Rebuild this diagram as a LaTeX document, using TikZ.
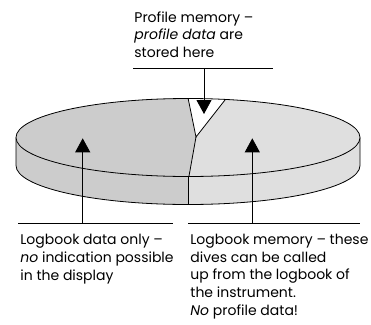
\documentclass[tikz,border=0pt]{standalone}
\usepackage{fontspec}
\setmainfont{Poppins}
\usetikzlibrary{arrows.meta,positioning}

\begin{document}
\begin{tikzpicture}[x=1pt,y=-1pt,line width=0.8pt,
  pointer/.style={-{Triangle[length=14pt,width=15pt]}},
  caption/.style={anchor=base west,align=left,inner sep=0pt,
    font=\fontsize{14}{17.6}\selectfont},
  disc/.style={x radius=172,y radius=39}]
  \useasboundingbox (0,0) rectangle (371,324);
  % side of the disc
  \begin{scope}
    \clip (16,137.5) -- (16,165.5) arc[start angle=180,end angle=0,disc] -- (360,137.5) -- cycle;
    \fill[gray!40] (0,120) rectangle (188.3,220);
    \fill[gray!25] (188.3,120) rectangle (371,220);
  \end{scope}
  \draw (16,137.5) -- (16,165.5) arc[start angle=180,end angle=0,disc] -- (360,137.5);
  \draw (188.3,176) -- (188.3,204.5);
  % top of the disc
  \fill[gray!25] (188,137.5) ellipse[disc];
  \begin{scope}
    \clip (188,137.5) ellipse[disc];
    \fill[gray!40] (186.4,90) -- (196,137) -- (188.3,177) -- (188.3,190) -- (0,190) -- (0,90) -- cycle;
    \fill[white] (186.4,90) -- (196,137) -- (232.8,90) -- cycle;
    \draw (186.4,90) -- (196,137) -- (232.8,90);
    \draw (196,137) -- (188.3,180);
  \end{scope}
  \draw (188,137.5) ellipse[disc];

  % texts (anchored at the baseline of the last line)
  \node[caption] (profile) at (134,57.3) {Profile memory --\\\textit{profile data} are\\stored here};
  \node[caption] (logonly) at (20,280) {Logbook data only --\\\textit{no} indication possible\\in the display};
  \node[caption] (logmem) at (190,315) {Logbook memory -- these\\dives can be called\\up from the logbook of\\the instrument.\\\textit{No} profile data!};

  % rules and pointers
  \coordinate (pfrom) at (204,68.3);
  \coordinate (pto) at (204,114);
  \coordinate (lfrom) at (82.7,223.3);
  \coordinate (lto) at (82.7,138.3);
  \coordinate (rfrom) at (252.3,223.3);
  \coordinate (rto) at (252.3,138.3);
  \draw (133.3,68.3) -- (273.3,68.3);
  \draw (18.3,223.3) -- (173.3,223.3);
  \draw (188.3,223.3) -- (360,223.3);
  \draw[pointer] (pfrom) -- (pto);
  \draw[pointer] (lfrom) -- (lto);
  \draw[pointer] (rfrom) -- (rto);
\end{tikzpicture}
\end{document}
